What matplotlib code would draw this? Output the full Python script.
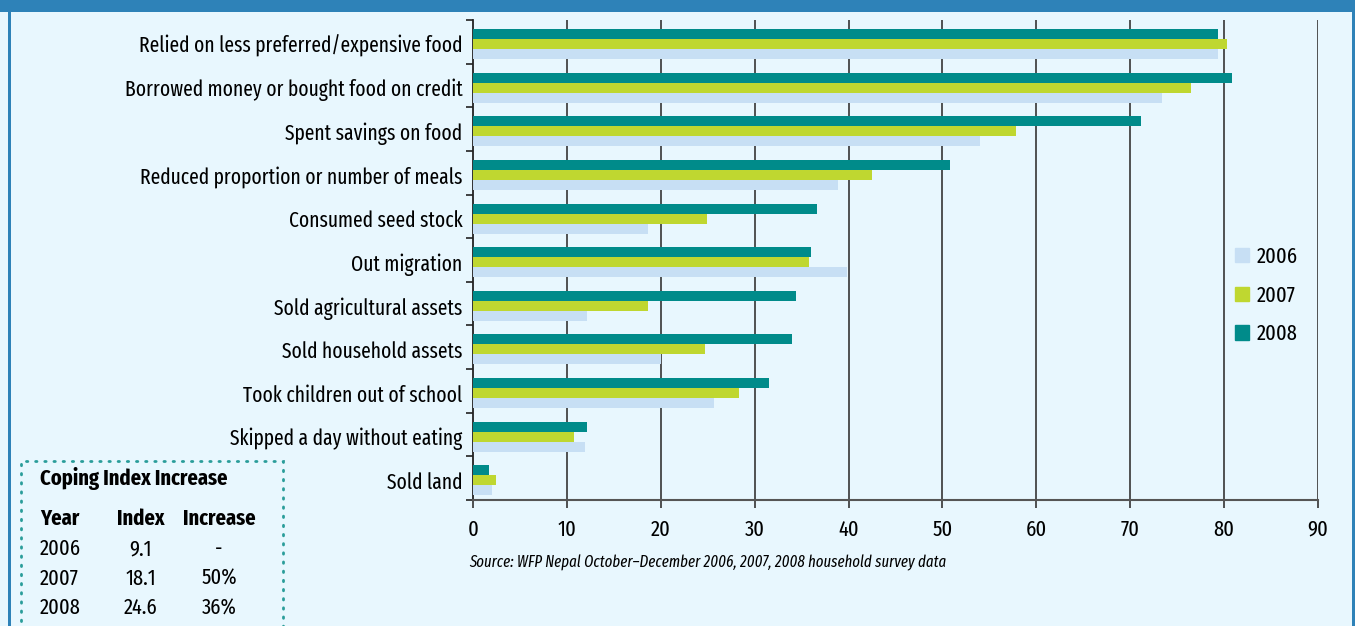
import matplotlib
matplotlib.use("Agg")
import matplotlib.pyplot as plt
from matplotlib.patches import Rectangle, Patch
import numpy as np

plt.rcParams['font.family'] = ['Fira Sans Extra Condensed', 'DejaVu Sans']

categories = ["Relied on less preferred/expensive food",
              "Borrowed money or bought food on credit",
              "Spent savings on food",
              "Reduced proportion or number of meals",
              "Consumed seed stock",
              "Out migration",
              "Sold agricultural assets",
              "Sold household assets",
              "Took children out of school",
              "Skipped a day without eating",
              "Sold land"]
v2006 = [79.4, 73.4, 54.0, 38.9, 18.6, 39.8, 12.1, 20.0, 25.7, 11.9, 2.0]
v2007 = [80.3, 76.5, 57.8, 42.5, 24.9, 35.8, 18.6, 24.7, 28.3, 10.8, 2.5]
v2008 = [79.4, 80.8, 71.1, 50.8, 36.6, 36.0, 34.4, 34.0, 31.5, 12.1, 1.7]
years = ["2006", "2007", "2008"]
xticks = [0, 10, 20, 30, 40, 50, 60, 70, 80, 90]

table_head = ["Year", "Index", "Increase"]
t_year = ["2006", "2007", "2008"]
t_index = ["9.1", "18.1", "24.6"]
t_incr = ["-", "50%", "36%"]

bg = '#e8f7fe'
c2006 = '#c7dff4'
c2007 = '#bfd730'
c2008 = '#008b8a'
fs = 16

W, H = 1355, 626
fig = plt.figure(figsize=(W/100, H/100), dpi=100, facecolor=bg)

# frame
fig.patches.append(Rectangle((0, 1 - 12/H), 1, 12/H, transform=fig.transFigure,
                             facecolor='#2e82b8', edgecolor='none', zorder=0))
fig.patches.append(Rectangle((8/W, 0), 3/W, 1 - 12/H, transform=fig.transFigure,
                             facecolor='#2e82b8', edgecolor='none', zorder=0))
fig.patches.append(Rectangle((1352/W, 0), 3/W, 1 - 12/H, transform=fig.transFigure,
                             facecolor='#2e82b8', edgecolor='none', zorder=0))

ax = fig.add_axes([473/W, (H-500)/H, (1318-473)/W, 480/H])
ax.set_facecolor(bg)

y = np.arange(len(categories))
h = 0.229
ax.barh(y + 0.321, v2008, height=h, color=c2008, zorder=3)
ax.barh(y + 0.55, v2007, height=h, color=c2007, zorder=3)
ax.barh(y + 0.779, v2006, height=h, color=c2006, zorder=3)

ax.set_xlim(0, 90)
ax.set_ylim(len(categories), 0)
ax.set_xticks(xticks)
ax.set_xticklabels([str(t) for t in xticks], fontsize=fs)
ax.set_yticks(y + 0.55)
ax.set_yticklabels(categories, fontsize=15.3)
ax.tick_params(axis='y', which='major', length=0, pad=7.5)
ax.set_yticks(np.arange(len(categories) + 1), minor=True)
ax.tick_params(axis='y', which='minor', length=5, width=1.2, color='#222222')
ax.tick_params(axis='x', length=6, width=1.2, color='#333333', pad=7.5)

for t in xticks[1:]:
    ax.axvline(t, color='#444444', lw=1.3, zorder=1)
for s in ['top', 'right']:
    ax.spines[s].set_visible(False)
ax.spines['left'].set_color('#222222')
ax.spines['left'].set_linewidth(1.3)
ax.spines['bottom'].set_color('#555555')
ax.spines['bottom'].set_linewidth(1.5)

handles = [Patch(color=c) for c in [c2006, c2007, c2008]]
fig.legend(handles, years, loc='upper left', bbox_to_anchor=(1224/W, (H-235)/H),
           frameon=False, fontsize=fs, handlelength=0.63, handleheight=0.63,
           handletextpad=0.36, labelspacing=0.78, borderpad=0)

fig.text(469/W, (H-563)/H, "Source: WFP Nepal October\u2013December 2006, 2007, 2008 household survey data",
         fontsize=11.6, style='italic', va='center', ha='left')

# coping index box
fig.patches.append(Rectangle((21/W, -10/H), 262/W, (H-461+10)/H, transform=fig.transFigure,
                             facecolor='none', edgecolor='#2a9d9a', lw=2,
                             linestyle=(0, (0.5, 2.8)), capstyle='round', zorder=2))
fig.text(40/W, (H-478)/H, "Coping Index Increase", fontsize=fs, fontweight='bold',
         va='center', ha='left')
fig.text(40/W, (H-519)/H, table_head[0], fontsize=fs, fontweight='bold', va='center', ha='left')
fig.text(141/W, (H-519)/H, table_head[1], fontsize=fs, fontweight='bold', va='center', ha='center')
fig.text(219/W, (H-519)/H, table_head[2], fontsize=fs, fontweight='bold', va='center', ha='center')
for i in range(3):
    yy = (H - 549 - 29.5*i)/H
    fig.text(40/W, yy, t_year[i], fontsize=fs, va='center', ha='left')
    fig.text(141/W, yy, t_index[i], fontsize=fs, va='center', ha='center')
    fig.text(219/W, yy, t_incr[i], fontsize=fs, va='center', ha='center')

fig.savefig("out.png", dpi=100, facecolor=bg)
